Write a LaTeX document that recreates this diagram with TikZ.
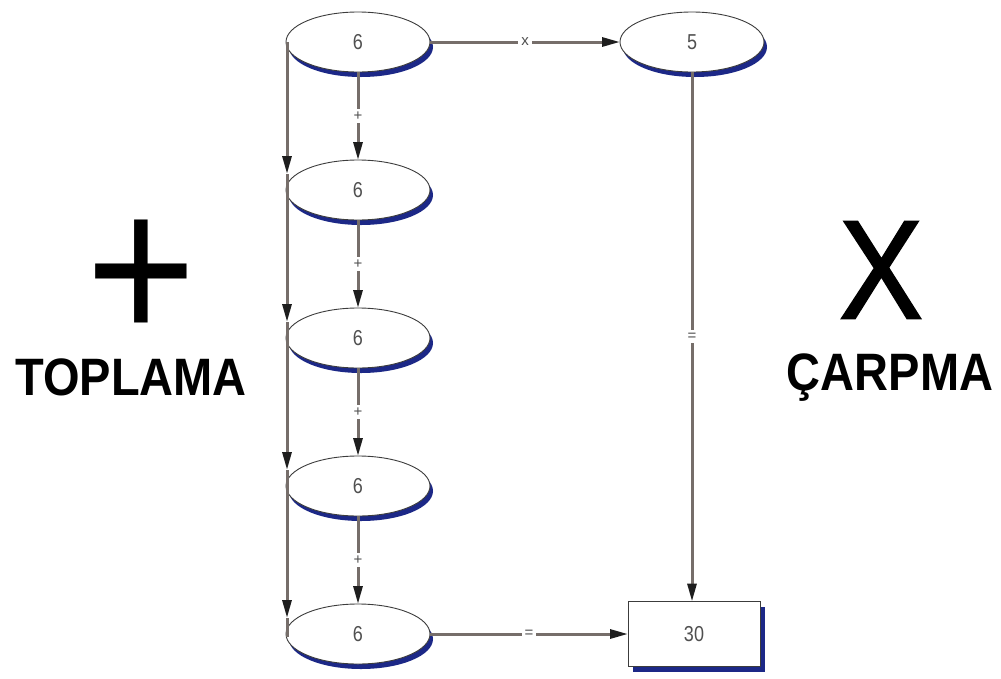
\documentclass[tikz,border=0pt]{standalone}
\usepackage{fontspec}
\setmainfont{Liberation Sans}
\newfontfamily\symfont[FakeBold=1.6]{Liberation Sans}
\usetikzlibrary{shapes.geometric,shadows,arrows.meta}
\definecolor{shblue}{RGB}{28,40,135}
\definecolor{edgegrey}{RGB}{60,60,60}
\definecolor{linegrey}{RGB}{118,110,106}
\definecolor{tipdark}{RGB}{30,30,30}
\definecolor{txtgrey}{RGB}{80,80,80}
\newcommand\tallnum[1]{\scalebox{1}[1.2]{#1}}
\tikzset{
  oval/.style={ellipse, draw=edgegrey, line width=0.9pt, fill=white,
    minimum width=144pt, minimum height=60pt, inner sep=0pt, outer sep=0pt,
    general shadow={fill=shblue, shadow xshift=3pt, shadow yshift=-5pt},
    font=\fontsize{18}{18}\selectfont, text=txtgrey},
  resbox/.style={rectangle, draw=edgegrey, line width=0.9pt, fill=white,
    minimum width=132pt, minimum height=65pt, inner sep=0pt, outer sep=0pt,
    general shadow={fill=shblue, shadow xshift=5pt, shadow yshift=-5pt},
    font=\fontsize{18}{18}\selectfont, text=txtgrey},
  conn/.style={draw=linegrey, line width=3pt,
    -{Triangle[length=18pt,width=9pt,color=tipdark]}},
  plainline/.style={draw=linegrey, line width=3pt},
  oplabel/.style={fill=white, inner sep=3pt, font=\fontsize{15}{15}\selectfont, text=txtgrey},
  bigword/.style={font=\bfseries\fontsize{47}{47}\selectfont, anchor=base, inner sep=0pt},
  bigsym/.style={inner sep=0pt}
}
\begin{document}
\begin{tikzpicture}[x=1pt,y=-1pt]
\fill[white] (0,0) rectangle (1001,678);
\useasboundingbox (0,0) rectangle (1001,678);

% nodes
\node[oval] (e1) at (358,42) {\tallnum{6}};
\node[oval] (e2) at (358,190) {\tallnum{6}};
\node[oval] (e3) at (358,338) {\tallnum{6}};
\node[oval] (e4) at (358,486) {\tallnum{6}};
\node[oval] (e5) at (358,634) {\tallnum{6}};
\node[oval] (e6) at (692,42) {\tallnum{5}};
\node[resbox] (res) at (694,634) {\tallnum{30}};

% big labels
\node[bigsym, font=\fontsize{188}{188}\selectfont] (plus) at (141,281) {\scalebox{1}[1.12]{+}};
\node[bigsym, font=\symfont\fontsize{125}{125}\selectfont] (times) at (881,270) {\scalebox{1}[1.12]{X}};
\node[bigword] (topl) at (131,395) {\scalebox{1}[1.12]{TOPLAMA}};
\node[bigword] (carp) at (890,390) {\scalebox{1}[1.12]{ÇARPMA}};

% left running line
\draw[conn] ([xshift=1pt]e1.west) -- ([xshift=1pt,yshift=16pt]e2.west);
\draw[conn] ([xshift=1pt,yshift=16pt]e2.west) -- ([xshift=1pt,yshift=16pt]e3.west);
\draw[conn] ([xshift=1pt,yshift=16pt]e3.west) -- ([xshift=1pt,yshift=16pt]e4.west);
\draw[conn] ([xshift=1pt,yshift=16pt]e4.west) -- ([xshift=1pt,yshift=16pt]e5.west);
\draw[plainline] ([xshift=1pt,yshift=16pt]e5.west) -- ([xshift=1pt,yshift=-3pt]e5.west);

% middle chain
\draw[conn] (e1.south) -- node[oplabel] {+} (e2.north);
\draw[conn] (e2.south) -- node[oplabel] {+} (e3.north);
\draw[conn] (e3.south) -- node[oplabel] {+} (e4.north);
\draw[conn] (e4.south) -- node[oplabel] {+} (e5.north);

% multiplication path
\draw[conn] (e1.east) -- node[oplabel] {x} (e6.west);
\draw[conn] (e6.south) -- node[oplabel] {=} (e6.south |- res.north);
\draw[conn] (e5.east) -- node[oplabel] {=} (e5.east -| res.west);
\end{tikzpicture}
\end{document}
